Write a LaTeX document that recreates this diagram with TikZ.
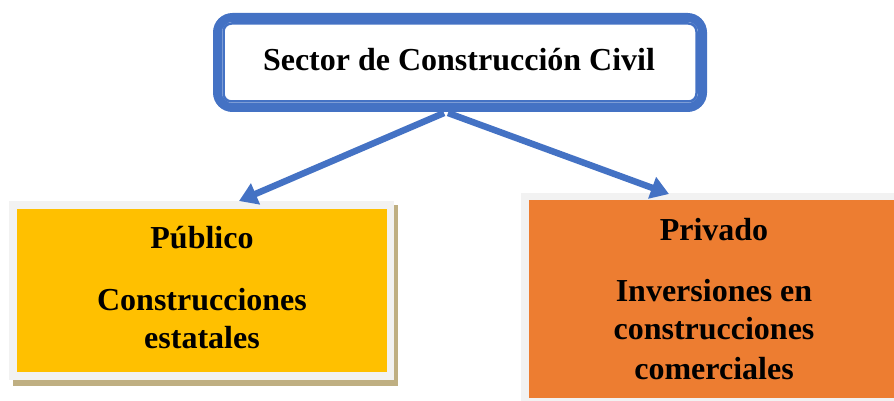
\documentclass[tikz,border=0pt]{standalone}
\usepackage{fontspec}
\setmainfont{Liberation Serif}
\usetikzlibrary{arrows.meta}
\definecolor{cblue}{HTML}{4472C4}
\definecolor{cyellow}{HTML}{FFC000}
\definecolor{corange}{HTML}{ED7D31}
\definecolor{cgrey}{HTML}{F2F2F2}
\definecolor{cshadow}{RGB}{191,175,130}
\tikzset{
  txt/.style={font=\fontsize{32}{38}\selectfont\bfseries, inner sep=0pt, anchor=base},
  flowarrow/.style={draw=cblue, line width=6.5pt, -{Triangle[length=18pt,width=22pt]}},
  mainbox/.style={draw=cblue, line width=9pt, rounded corners=15pt, minimum width=485pt, minimum height=90pt, inner sep=0pt},
  plainrect/.style={inner sep=0pt, outer sep=0pt}
}
\begin{document}
\begin{tikzpicture}[x=1pt,y=-1pt]
\useasboundingbox (0,0) rectangle (894,401);
\clip (0,0) rectangle (894,401);
% top box
\node[mainbox] (top) at (460,62.5) {};
\draw[cblue, line width=2.5pt, rounded corners=8pt] (223.5,23.5) rectangle (696.5,101.5);
\node[txt] (toptext) at (459,71) {Sector de Construcción Civil};
% left box
\fill[cshadow] (13,205) rectangle (398,386);
\node[plainrect, fill=cgrey, minimum width=385pt, minimum height=179pt] (pub) at (201.5,290.5) {};
\node[plainrect, fill=cyellow, minimum width=370pt, minimum height=163pt] (pubin) at (202,290.5) {};
\node[txt] (pub1) at (202,248) {Público};
\node[txt] (pub2) at (202,310) {Construcciones};
\node[txt] (pub3) at (202,348) {estatales};
% right box
\node[plainrect, fill=cgrey, minimum width=381pt, minimum height=212pt] (priv) at (711.5,299) {};
\node[plainrect, fill=corange, minimum width=373pt, minimum height=198pt] (privin) at (715.5,299) {};
\node[txt] (priv1) at (714,240) {Privado};
\node[txt] (priv2) at (714,301) {Inversiones en};
\node[txt] (priv3) at (714,339) {construcciones};
\node[txt] (priv4) at (714,379) {comerciales};
% arrows
\draw[flowarrow] ([xshift=-16pt,yshift=-1pt]top.south) -- ([xshift=37.5pt]pub.north);
\draw[flowarrow] ([xshift=-12pt,yshift=-1pt]top.south) -- ([xshift=-42.5pt,yshift=-1pt]priv.north);
\end{tikzpicture}
\end{document}
